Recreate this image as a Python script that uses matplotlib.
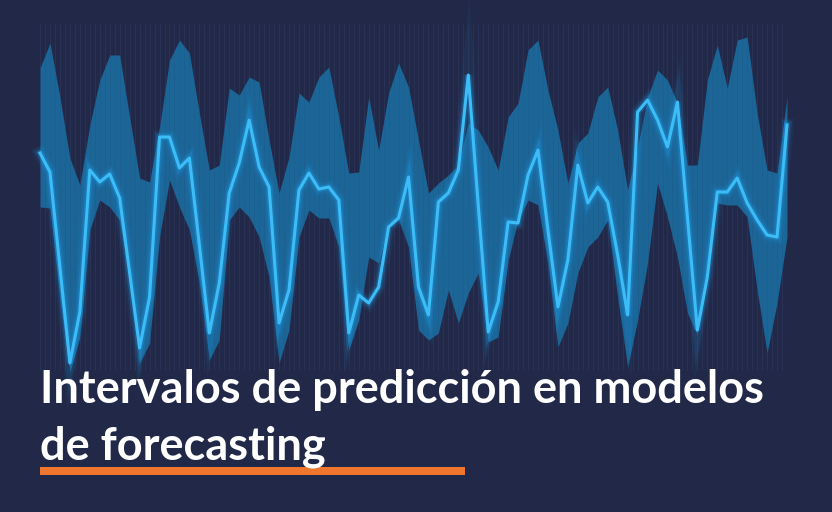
import numpy as np
import matplotlib
matplotlib.use("Agg")
import matplotlib.pyplot as plt
from matplotlib.patches import Rectangle

# forecast and prediction interval (arbitrary units), one value per period
forecast = [247, 228, 133, 37, 88, 230, 218, 226, 202, 127, 52, 103, 263, 263, 232, 242,
            155, 67, 117, 207, 237, 280, 233, 213, 77, 110, 210, 227, 211, 213, 200, 67,
            105, 97, 113, 173, 182, 223, 113, 85, 198, 207, 230, 325, 195, 68, 98, 178,
            177, 225, 250, 170, 93, 140, 235, 197, 213, 198, 145, 85, 288, 300, 280, 253,
            298, 183, 70, 123, 208, 208, 222, 197, 180, 165, 163, 275]
upper = [332, 357, 303, 242, 215, 275, 320, 345, 345, 283, 222, 218, 273, 340, 360, 347,
         287, 230, 235, 312, 305, 323, 318, 260, 207, 243, 307, 298, 323, 333, 283, 227,
         228, 303, 250, 307, 337, 313, 260, 207, 217, 225, 235, 277, 270, 253, 230, 283,
         297, 350, 360, 310, 270, 217, 257, 267, 303, 313, 270, 210, 253, 303, 330, 320,
         297, 235, 235, 320, 355, 312, 360, 363, 287, 230, 227, 303]
lower = [193, 192, 103, 28, 63, 170, 200, 193, 180, 120, 37, 57, 163, 220, 193, 170,
         117, 40, 60, 180, 193, 183, 163, 123, 37, 70, 163, 190, 182, 182, 153, 50,
         80, 143, 137, 177, 180, 153, 70, 60, 67, 110, 77, 107, 127, 58, 63, 140,
         180, 200, 195, 137, 53, 77, 127, 153, 163, 180, 103, 33, 80, 137, 217, 183,
         143, 87, 65, 137, 197, 195, 195, 183, 110, 47, 97, 163]
periods = np.arange(len(forecast))

title_1 = "Intervalos de predicción en modelos"
title_2 = "de forecasting"

bg = "#222848"

fig = plt.figure(figsize=(8.32, 5.12), dpi=100)
fig.patch.set_facecolor(bg)
ax = fig.add_axes([40 / 832, 132 / 512, 747 / 832, 360 / 512])
ax.set_facecolor(bg)
ax.set_xlim(0, 75)
ax.set_ylim(20, 380)
ax.axis("off")

# faint vertical stripes, a bit visible over the band too
stripes = np.arange(0, 75.6, 0.5)
ax.vlines(stripes, 30, 376, color="#3a3d6c", lw=0.7, alpha=0.4, zorder=0)

ax.fill_between(periods, lower, upper, color="#1b6597", lw=0, zorder=1)
ax.vlines(stripes, 30, 376, color="#2a3a6a", lw=0.6, alpha=0.15, zorder=1.5)

# glow for the forecast line
for w, a in [(10, 0.06), (7, 0.12), (4.5, 0.25)]:
    ax.plot(periods, forecast, color="#1fa6f0", lw=w, alpha=a, solid_joinstyle="miter",
            zorder=2, clip_on=False)
ax.plot(periods, forecast, color="#3dbdf7", lw=2.2, zorder=3, clip_on=False)

fig.text(40 / 832, 1 - 403 / 512, title_1, color="white", fontsize=32.5,
         family="Lato", weight="bold", va="baseline", ha="left")
fig.text(40 / 832, 1 - 460 / 512, title_2, color="white", fontsize=32.5,
         family="Lato", weight="bold", va="baseline", ha="left")
fig.add_artist(Rectangle((40 / 832, 1 - 475 / 512), 425 / 832, 8 / 512,
                         transform=fig.transFigure, color="#f0762f", lw=0))

fig.savefig("out.png", dpi=100, facecolor=bg)
